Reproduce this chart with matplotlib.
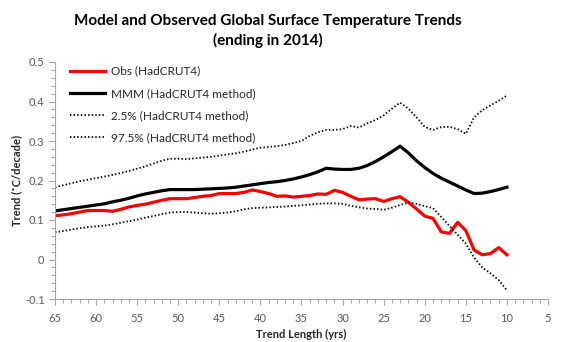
import matplotlib
matplotlib.use("Agg")
import matplotlib.pyplot as plt
from matplotlib.ticker import MultipleLocator

years = list(range(65, 9, -1))
obs = [0.111, 0.113, 0.116, 0.120, 0.124, 0.124, 0.124, 0.122, 0.127, 0.133,
       0.137, 0.140, 0.145, 0.150, 0.154, 0.154, 0.154, 0.157, 0.160, 0.162,
       0.167, 0.167, 0.167, 0.170, 0.176, 0.172, 0.167, 0.160, 0.161, 0.158,
       0.160, 0.162, 0.166, 0.165, 0.175, 0.170, 0.160, 0.151, 0.153, 0.154,
       0.147, 0.154, 0.159, 0.145, 0.128, 0.110, 0.104, 0.070, 0.066, 0.094,
       0.073, 0.024, 0.012, 0.015, 0.030, 0.012]
mmm = [0.123, 0.126, 0.129, 0.132, 0.135, 0.138, 0.141, 0.146, 0.150, 0.155,
       0.161, 0.166, 0.170, 0.174, 0.177, 0.177, 0.177, 0.177, 0.178, 0.179,
       0.180, 0.181, 0.183, 0.186, 0.189, 0.192, 0.195, 0.197, 0.200, 0.204,
       0.209, 0.215, 0.222, 0.231, 0.229, 0.228, 0.228, 0.231, 0.238, 0.248,
       0.260, 0.273, 0.287, 0.270, 0.250, 0.233, 0.218, 0.206, 0.196, 0.186,
       0.176, 0.167, 0.168, 0.172, 0.177, 0.183]
p025 = [0.069, 0.072, 0.076, 0.079, 0.082, 0.084, 0.086, 0.089, 0.093, 0.097,
        0.101, 0.106, 0.110, 0.115, 0.119, 0.120, 0.120, 0.119, 0.117, 0.116,
        0.117, 0.119, 0.122, 0.127, 0.130, 0.131, 0.132, 0.133, 0.134, 0.136,
        0.137, 0.139, 0.141, 0.142, 0.142, 0.141, 0.136, 0.132, 0.129, 0.128,
        0.126, 0.131, 0.138, 0.144, 0.141, 0.135, 0.130, 0.108, 0.085, 0.063,
        0.040, 0.005, -0.020, -0.035, -0.052, -0.078]
p975 = [0.183, 0.188, 0.193, 0.198, 0.202, 0.206, 0.210, 0.214, 0.219, 0.224,
        0.230, 0.236, 0.243, 0.250, 0.255, 0.255, 0.254, 0.256, 0.258, 0.260,
        0.263, 0.266, 0.269, 0.273, 0.278, 0.283, 0.285, 0.287, 0.290, 0.295,
        0.300, 0.313, 0.322, 0.328, 0.328, 0.330, 0.338, 0.334, 0.345, 0.353,
        0.365, 0.382, 0.397, 0.382, 0.360, 0.336, 0.328, 0.335, 0.336, 0.330,
        0.318, 0.360, 0.378, 0.390, 0.402, 0.415]

labels = ["Obs (HadCRUT4)", "MMM (HadCRUT4 method)",
          "2.5% (HadCRUT4 method)", "97.5% (HadCRUT4 method)"]
title = "Model and Observed Global Surface Temperature Trends\n(ending in 2014)"
xlabel = "Trend Length (yrs)"
ylabel = "Trend (\u02daC/decade)"

plt.rcParams['font.family'] = ['Lato', 'DejaVu Sans']

fig = plt.figure(figsize=(5.61, 3.42), dpi=100)
ax = fig.add_axes([55/561, 1-299/342, (548-55)/561, (299-62)/342])

dot = (0, (0.8, 1.2))
ax.plot(years, obs, color='#ff0000', lw=2.3, label=labels[0], solid_joinstyle='round')
ax.plot(years, mmm, color='black', lw=2.3, label=labels[1], solid_joinstyle='round')
ax.plot(years, p025, color='black', lw=1.3, linestyle=dot, label=labels[2])
ax.plot(years, p975, color='black', lw=1.3, linestyle=dot, label=labels[3])

ax.set_xlim(65, 5)
ax.set_ylim(-0.1, 0.5)
ax.xaxis.set_minor_locator(MultipleLocator(1))
ax.yaxis.set_minor_locator(MultipleLocator(0.02))
ax.set_xticks(range(65, 4, -5))
ax.set_xticklabels([str(v) for v in range(65, 4, -5)])
ax.set_yticks([-0.1, 0, 0.1, 0.2, 0.3, 0.4, 0.5])
ax.set_yticklabels(["-0.1", "0", "0.1", "0.2", "0.3", "0.4", "0.5"])

for s in ['top', 'right']:
    ax.spines[s].set_visible(False)
for s in ['left', 'bottom']:
    ax.spines[s].set_color('#a6a6a6')
    ax.spines[s].set_linewidth(0.8)
ax.tick_params(axis='both', which='both', colors='#a6a6a6', labelcolor='#595959',
               labelsize=8, width=0.8)
ax.tick_params(axis='both', which='major', length=4)
ax.tick_params(axis='both', which='minor', length=3)
ax.tick_params(axis='x', pad=6)

ax.set_xlabel(xlabel, fontsize=8, fontweight='bold', color='#262626', labelpad=4)
ax.set_ylabel(ylabel, fontsize=8, fontweight='bold', color='#262626', labelpad=2)

fig.text(268/561, 1-31/342, title, ha='center', va='center', fontsize=11,
         fontweight='bold', color='black', linespacing=1.4)

leg = ax.legend(loc='upper left', bbox_to_anchor=(65/561, 1-61/342),
                bbox_transform=fig.transFigure, frameon=False, fontsize=8.5,
                handlelength=3.0, handletextpad=0.5, labelspacing=0.95,
                borderaxespad=0)
for t in leg.get_texts():
    t.set_color('#262626')

fig.savefig("out.png", dpi=100)
